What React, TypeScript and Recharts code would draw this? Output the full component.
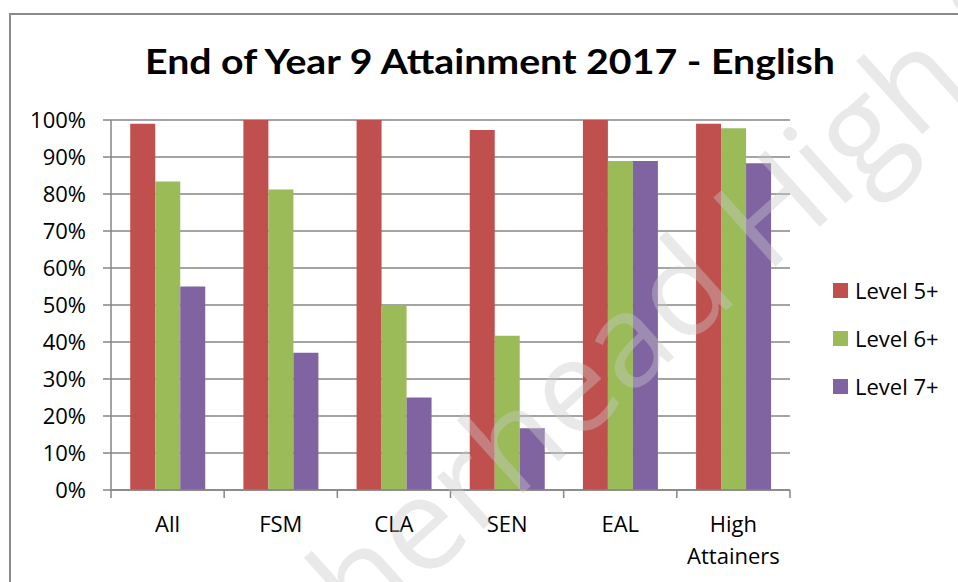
import { BarChart, Bar, XAxis, YAxis, CartesianGrid } from 'recharts';

const GROUPS = ['All', 'FSM', 'CLA', 'SEN', 'EAL', 'High Attainers'];
const LEVEL_5 = [99, 100, 100, 97.3, 100, 99];
const LEVEL_6 = [83.4, 81.2, 50, 41.7, 88.9, 97.8];
const LEVEL_7 = [55.0, 37.1, 25, 16.7, 88.9, 88.3];
const Y_TICKS = [0, 10, 20, 30, 40, 50, 60, 70, 80, 90, 100];

const SERIES = [
  { key: 'l5', name: 'Level 5+', color: '#C0504D' },
  { key: 'l6', name: 'Level 6+', color: '#9BBB59' },
  { key: 'l7', name: 'Level 7+', color: '#8064A2' },
];

const data = GROUPS.map((g, i) => ({ group: g, l5: LEVEL_5[i], l6: LEVEL_6[i], l7: LEVEL_7[i] }));

const W = 958;
const H = 582;
const X_AXIS_H = 30;
const MARGIN = { top: 120, right: 168, bottom: 92 - X_AXIS_H, left: 0 };
const Y_AXIS_W = 111;
const PLOT_W = W - MARGIN.left - MARGIN.right - Y_AXIS_W;
const FONT = '"Open Sans", sans-serif';
const AXIS_GREY = '#868686';

// category label, plus the tick marks on the band edges like Excel
function GroupTick(props: any) {
  const { x, y, payload, index } = props;
  const band = PLOT_W / GROUPS.length;
  const words = String(payload.value).split(' ');
  const left = x - band / 2;
  return (
    <g>
      <line x1={left} x2={left} y1={y} y2={y + 8} stroke={AXIS_GREY} strokeWidth={1.5} />
      {index === GROUPS.length - 1 && (
        <line x1={left + band} x2={left + band} y1={y} y2={y + 8} stroke={AXIS_GREY} strokeWidth={1.5} />
      )}
      <text x={x} y={y + 42} textAnchor="middle" fontFamily={FONT} fontSize={22} fill="#000">
        {words.map((w, i) => (
          <tspan key={w} x={x} dy={i === 0 ? 0 : 32}>{w}</tspan>
        ))}
      </text>
    </g>
  );
}

const wmStyle = {
  fontFamily: FONT,
  fontSize: 130,
  fill: '#c8c8c8',
  fillOpacity: 0.4,
};

export default function App() {
  return (
    <div style={{ position: 'fixed', left: 0, top: 0, width: W, height: H, overflow: 'hidden', background: '#fff' }}>
      <div
        style={{
          position: 'absolute',
          left: 9,
          top: 13,
          width: W + 20,
          height: H + 20,
          borderLeft: '2px solid #8a8a8a',
          borderTop: '2px solid #8a8a8a',
        }}
      />
      <svg width={W} height={H} style={{ position: 'absolute', left: 0, top: 0 }}>
        <text
          x={490}
          y={74}
          textAnchor="middle"
          fontFamily="Lato, sans-serif"
          fontWeight={700}
          fontSize={35}
          textLength={690}
          lengthAdjust="spacingAndGlyphs"
          fill="#000"
        >
          End of Year 9 Attainment 2017 - English
        </text>
      </svg>
      <div style={{ position: 'absolute', left: 0, top: 0 }}>
        <BarChart width={W} height={H} data={data} margin={MARGIN} barCategoryGap="17%" barGap={0}>
          <CartesianGrid vertical={false} stroke={AXIS_GREY} strokeWidth={1.5} />
          <XAxis
            dataKey="group"
            height={X_AXIS_H}
            axisLine={{ stroke: AXIS_GREY, strokeWidth: 1.5 }}
            tickLine={false}
            tickSize={0}
            tickMargin={0}
            interval={0}
            tick={<GroupTick />}
          />
          <YAxis
            width={Y_AXIS_W}
            domain={[0, 100]}
            ticks={Y_TICKS}
            tickFormatter={(v: number) => `${v}%`}
            axisLine={{ stroke: AXIS_GREY, strokeWidth: 1.5 }}
            tickLine={{ stroke: AXIS_GREY, strokeWidth: 1.5 }}
            tickSize={8}
            tickMargin={17}
            tick={{ fill: '#000', fontSize: 22, fontFamily: FONT }}
          />
          {SERIES.map(s => (
            <Bar key={s.key} dataKey={s.key} name={s.name} fill={s.color} isAnimationActive={false} />
          ))}
        </BarChart>
      </div>
      <div style={{ position: 'absolute', left: 833, top: 266, fontFamily: FONT, fontSize: 22, color: '#000' }}>
        {SERIES.map(s => (
          <div key={s.key} style={{ display: 'flex', alignItems: 'center', height: 48 }}>
            <span style={{ width: 15, height: 15, background: s.color, marginRight: 7, display: 'inline-block' }} />
            <span>{s.name}</span>
          </div>
        ))}
      </div>
      {/* faint watermark running across the picture */}
      <svg width={W} height={H} style={{ position: 'absolute', left: 0, top: 0, pointerEvents: 'none' }}>
        <text x={0} y={0} transform="translate(741,297) rotate(-42)" textAnchor="end" {...wmStyle}>
          Wetherhead
        </text>
        <text x={0} y={0} transform="translate(766,275) rotate(-42)" textAnchor="start" {...wmStyle}>
          High School
        </text>
      </svg>
    </div>
  );
}
